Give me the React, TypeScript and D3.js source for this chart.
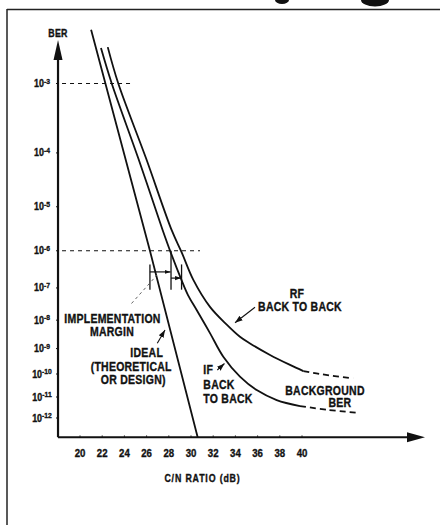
import React from "react";
import * as d3 from "d3";

// ---- data ----
const cnTicks = [20, 22, 24, 26, 28, 30, 32, 34, 36, 38, 40];
const berExponents = [3, 4, 5, 6, 7, 8, 9, 10, 11, 12];

const idealCN = [21.0, 26.3, 30.6];
const idealExp = [2.4, 6.0, 13.0];

const ifCN = [21.89, 22.86, 25.25, 27.45, 28.17, 29.14, 29.73, 30.51, 31.71, 32.91, 34.41, 35.92, 37.72, 39.82];
const ifExp = [2.59, 3.0, 4.09, 5.51, 6.04, 6.77, 7.21, 7.67, 8.44, 9.31, 10.11, 10.69, 11.14, 11.42];
const ifBgCN = [39.82, 42.3, 44.9];
const ifBgExp = [11.42, 11.6, 11.74];

const rfCN = [22.5, 23.45, 25.95, 28.26, 29.16, 30.21, 31.71, 33.22, 34.41, 35.32, 37.12, 38.92, 40.12];
const rfExp = [2.58, 3.0, 4.09, 5.51, 6.04, 6.77, 7.57, 8.15, 8.57, 8.81, 9.24, 9.63, 9.88];
const rfBgCN = [40.12, 41.6, 44.6];
const rfBgExp = [9.88, 10.0, 10.18];

// C/N at BER 1e-6 for ideal, IF and RF (implementation margin)
const marginCN = [26.3, 28.2, 29.15];
const refExps = [3, 6];

const FONT = "'Liberation Sans',Arial,sans-serif";
const ink = "#111";

function T(props: {
  x: number;
  y: number;
  size?: number;
  anchor?: "start" | "middle" | "end";
  sx?: number;
  ls?: number;
  children: React.ReactNode;
}) {
  const { x, y, size = 12.5, anchor = "middle", sx = 0.84, ls = 0.3, children } = props;
  return (
    <text
      transform={`translate(${x},${y}) scale(${sx},1)`}
      textAnchor={anchor}
      fontFamily={FONT}
      fontWeight={700}
      fontSize={size}
      letterSpacing={ls}
      fill={ink}
      stroke={ink}
      strokeWidth={0.35}
    >
      {children}
    </text>
  );
}

export default function App() {
  const x = d3.scaleLinear().domain([20, 40]).range([80, 302]);
  const y = d3.scaleLog().domain([3, 12]).range([83.5, 418]);
  const x0 = x(18.02);
  const y0 = y(13);

  const line = d3
    .line<[number, number]>()
    .x((d) => x(d[0]))
    .y((d) => y(d[1]))
    .curve(d3.curveCatmullRom.alpha(0.5));
  const straight = d3
    .line<[number, number]>()
    .x((d) => x(d[0]))
    .y((d) => y(d[1]));

  const zip = (a: number[], b: number[]) => a.map((v, i) => [v, b[i]] as [number, number]);

  const mY1 = y(6.55);
  const mY2 = y(6.72);

  return (
    <svg
      width={440}
      height={525}
      style={{ position: "absolute", left: 0, top: 0, background: "#fff" }}
    >
      <defs>
        <marker id="ah" viewBox="0 0 10 10" refX="10" refY="5" markerWidth="7" markerHeight="7" orient="auto">
          <path d="M0,1.5 L10,5 L0,8.5 Z" fill={ink} />
        </marker>
        <marker id="ahs" viewBox="0 0 10 10" refX="10" refY="5" markerWidth="5" markerHeight="5" orient="auto">
          <path d="M0,1.5 L10,5 L0,8.5 Z" fill={ink} />
        </marker>
      </defs>

      {/* scan frame */}
      <line x1={7} y1={9.5} x2={440} y2={9.5} stroke="#222" strokeWidth={1.5} />
      <line x1={7} y1={9} x2={7} y2={525} stroke="#222" strokeWidth={1.5} />
      <ellipse cx={282} cy={0} rx={7} ry={4} fill="#111" />
      <ellipse cx={375} cy={0} rx={14} ry={6.5} fill="#111" />

      {/* axes */}
      <line x1={x0} y1={y0} x2={x0} y2={58} stroke={ink} strokeWidth={2.2} />
      <path d={`M${x0},40 L${x0 - 4.5},60 L${x0 + 4.5},60 Z`} fill={ink} />
      <line x1={x0} y1={y0} x2={408} y2={y0} stroke={ink} strokeWidth={2} />
      <path d={`M425,${y0} L407,${y0 - 5} L407,${y0 + 5} Z`} fill={ink} />

      {/* y tick labels */}
      {berExponents.map((e) => (
        <g key={e}>
          <line x1={x0 - 2} x2={x0} y1={y(e)} y2={y(e)} stroke={ink} strokeWidth={1} />
          <T x={42} y={y(e) + 3.5} size={10.5} sx={0.85} ls={0}>
            10<tspan fontSize={8} dy={-3.5}>{`-${e}`}</tspan>
          </T>
        </g>
      ))}
      <T x={58} y={37} size={10.5}>BER</T>

      {/* x tick labels */}
      {cnTicks.map((c) => (
        <g key={c}>
          <line x1={x(c)} x2={x(c)} y1={y0 - 2} y2={y0} stroke={ink} strokeWidth={0.8} />
          <T x={x(c)} y={456.5} size={11.5} ls={0}>{c}</T>
        </g>
      ))}
      <T x={202.5} y={481.5} size={10.5} ls={1}>C/N RATIO (dB)</T>

      {/* reference dashed lines */}
      {refExps.map((e, i) => (
        <line
          key={e}
          x1={x0 + 4}
          x2={i === 0 ? 132 : 200}
          y1={y(e)}
          y2={y(e)}
          stroke={ink}
          strokeWidth={1.1}
          strokeDasharray="4 4"
        />
      ))}

      {/* curves */}
      <path d={straight(zip(idealCN, idealExp)) || ""} fill="none" stroke={ink} strokeWidth={1.8} />
      <path d={line(zip(ifCN, ifExp)) || ""} fill="none" stroke={ink} strokeWidth={1.8} />
      <path d={line(zip(rfCN, rfExp)) || ""} fill="none" stroke={ink} strokeWidth={1.8} />
      <path d={line(zip(ifBgCN, ifBgExp)) || ""} fill="none" stroke={ink} strokeWidth={1.8} strokeDasharray="6 4" />
      <path d={line(zip(rfBgCN, rfBgExp)) || ""} fill="none" stroke={ink} strokeWidth={1.8} strokeDasharray="6 4" />

      {/* implementation margin */}
      {marginCN.map((c, i) => (
        <line
          key={c}
          x1={x(c)}
          x2={x(c)}
          y1={i === 1 ? y(6) : y(6.35)}
          y2={y(7.05)}
          stroke={ink}
          strokeWidth={1.3}
        />
      ))}
      <line x1={x(marginCN[0])} x2={x(marginCN[1]) - 0.5} y1={mY1} y2={mY1} stroke={ink} strokeWidth={1.2} markerEnd="url(#ahs)" />
      <line x1={x(marginCN[1])} x2={x(marginCN[2]) - 0.5} y1={mY2} y2={mY2} stroke={ink} strokeWidth={1.2} markerEnd="url(#ahs)" />
      <line x1={131.5} y1={303.5} x2={157} y2={275} stroke="#555" strokeWidth={0.9} strokeDasharray="3 3" />

      {/* annotations */}
      <T x={112.5} y={322.7}>IMPLEMENTATION</T>
      <T x={112} y={336}>MARGIN</T>

      <T x={146.7} y={357.3}>IDEAL</T>
      <T x={131.2} y={370.7}>(THEORETICAL</T>
      <T x={133.3} y={384}>OR DESIGN)</T>
      <line x1={157.3} y1={343.3} x2={165} y2={330} stroke={ink} strokeWidth={1.1} markerEnd="url(#ah)" />

      <T x={297} y={298}>RF</T>
      <T x={300} y={310.7}>BACK TO BACK</T>
      <line x1={255} y1={307.3} x2={235} y2={322.7} stroke={ink} strokeWidth={1.1} markerEnd="url(#ah)" />

      <T x={203.3} y={374} anchor="start">IF</T>
      <T x={203.3} y={389} anchor="start">BACK</T>
      <T x={203.3} y={403.3} anchor="start">TO BACK</T>
      <line x1={217.3} y1={370} x2={224.5} y2={363.5} stroke={ink} strokeWidth={1.1} markerEnd="url(#ah)" />

      <T x={325} y={395}>BACKGROUND</T>
      <T x={340} y={407.3}>BER</T>
    </svg>
  );
}
